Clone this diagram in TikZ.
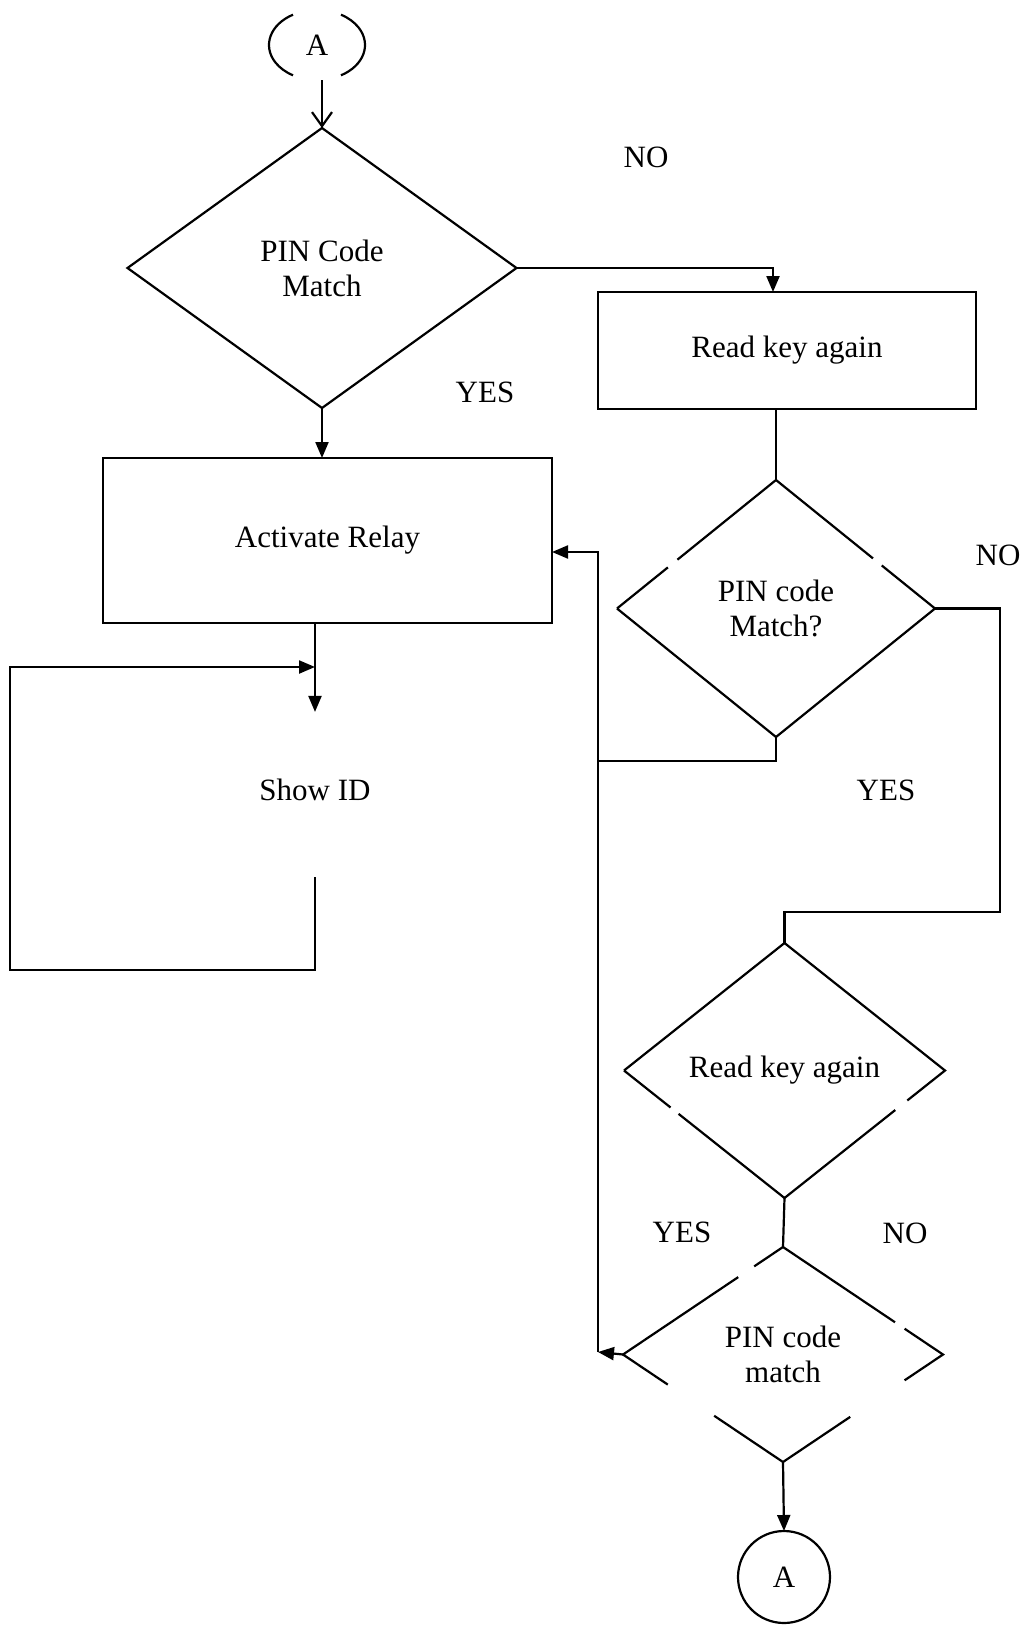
\documentclass[tikz,border=0pt]{standalone}
\usepackage{fontspec}
\setmainfont{Liberation Serif}
\usetikzlibrary{
    arrows.meta,
    positioning,
    shapes.geometric,
    calc
}

\begin{document}
\begin{tikzpicture}[
    x=1pt, y=-1pt,
    line width=2.2pt,
    font=\fontsize{31}{35}\selectfont,
    % flowchart blocks
    decision/.style={
        diamond,
        align=center,
        inner sep=0pt,
        outer sep=0pt
    },
    process/.style={
        rectangle,
        draw,
        align=center,
        inner sep=0pt,
        outer sep=0pt
    },
    connector/.style={
        inner sep=0pt,
        outer sep=0pt
    },
    flow/.style={
        -{Triangle[length=16pt,width=13pt]}
    },
    openflow/.style={
        -{Straight Barb[length=14pt,width=20pt]}
    }
]
    \useasboundingbox (0,0) rectangle (1028,1625);

    % Left column
    \node[connector, ellipse, minimum width=96pt, minimum height=70pt] (topA) at (317,45) {A};
    \node[decision, draw, minimum width=389pt, minimum height=280pt] (match1) at (322,268) {PIN Code\\Match};
    \node[process, minimum width=449pt, minimum height=165pt] (relay) at (327.5,540.5) {Activate Relay};
    \node[inner sep=0pt, minimum height=154pt] (showid) at (315,790) {Show ID};

    % Right column
    \node[process, minimum width=378pt, minimum height=117pt] (readkey) at (787,350.5) {Read key again};
    \node[decision, minimum width=318pt, minimum height=257pt] (match2) at (776,608.5) {PIN code\\Match?};
    \node[decision, minimum width=321pt, minimum height=255pt] (readagain) at (784.5,1070.5) {Read key again};
    \node[decision, minimum width=320pt, minimum height=215pt] (match3) at (783,1354.5) {PIN code\\match};
    \node[connector, circle, draw, minimum size=92pt] (endA) at (784,1577) {A};

    % Branch labels
    \node (no1) at (646,157) {NO};
    \node (yes1) at (485,392) {YES};
    \node (no2) at (998,555) {NO};
    \node (yes2) at (886,790) {YES};
    \node (yes3) at (682,1232) {YES};
    \node (no3) at (905,1233) {NO};

    % Broken outlines
    \draw ($(topA.center)+(120:48pt and 35pt)$) arc[start angle=120, end angle=240, x radius=48pt, y radius=35pt];
    \draw ($(topA.center)+(-60:48pt and 35pt)$) arc[start angle=-60, end angle=60, x radius=48pt, y radius=35pt];
    \draw (match2.west) -- (match2.south) -- (match2.east)
        -- ($(match2.north)!0.665!(match2.east)$)
        ($(match2.north)!0.61!(match2.east)$) -- (match2.north)
        -- ($(match2.north)!0.62!(match2.west)$)
        ($(match2.north)!0.68!(match2.west)$) -- (match2.west);
    \draw (readagain.west) -- (readagain.north) -- (readagain.east)
        -- ($(readagain.east)!0.235!(readagain.south)$)
        ($(readagain.east)!0.31!(readagain.south)$) -- (readagain.south)
        -- ($(readagain.west)!0.34!(readagain.south)$)
        ($(readagain.west)!0.29!(readagain.south)$) -- (readagain.west);
    \draw (match3.north) -- ($(match3.north)!0.18!(match3.west)$)
        ($(match3.north)!0.28!(match3.west)$) -- (match3.west)
        -- ($(match3.west)!0.28!(match3.south)$)
        ($(match3.west)!0.57!(match3.south)$) -- (match3.south)
        -- ($(match3.east)!0.58!(match3.south)$)
        ($(match3.east)!0.24!(match3.south)$) -- (match3.east)
        -- ($(match3.north)!0.76!(match3.east)$)
        ($(match3.north)!0.70!(match3.east)$) -- (match3.north);

    % Junction points
    \coordinate (noLoop) at (1000,912);
    \coordinate (yesJoin) at (598,761);
    \coordinate (busT) at (598,552);
    \coordinate (busB) at (598,1352);
    \coordinate (loopS) at (315,877);
    \coordinate (loopBL) at (10,970);
    \coordinate (loopTL) at (10,667);

    % Main flow
    \draw[openflow] (topA.south -| match1.north) -- (match1.north);
    \draw[flow] (match1.south) -- (match1.south |- relay.north);
    \draw[flow] (match1.east) -| ([xshift=-14pt]readkey.north);
    \draw (match2.north |- readkey.south) -- (match2.north);
    \draw (match2.east) -| (noLoop) -| (readagain.north);
    \draw (match2.south) |- (yesJoin);
    \draw[flow] (busB) |- (relay.east |- busT);
    \draw[flow] (match3.west) -- (busB);
    \draw (readagain.south) -- (match3.north);
    \draw[flow] (match3.south) -- (endA.north);

    % Show ID loop
    \draw[flow] (showid.north |- relay.south) -- (showid.north);
    \draw[flow] (loopS) |- (loopBL) -- (loopTL) -- (loopTL -| showid.north);
\end{tikzpicture}
\end{document}
